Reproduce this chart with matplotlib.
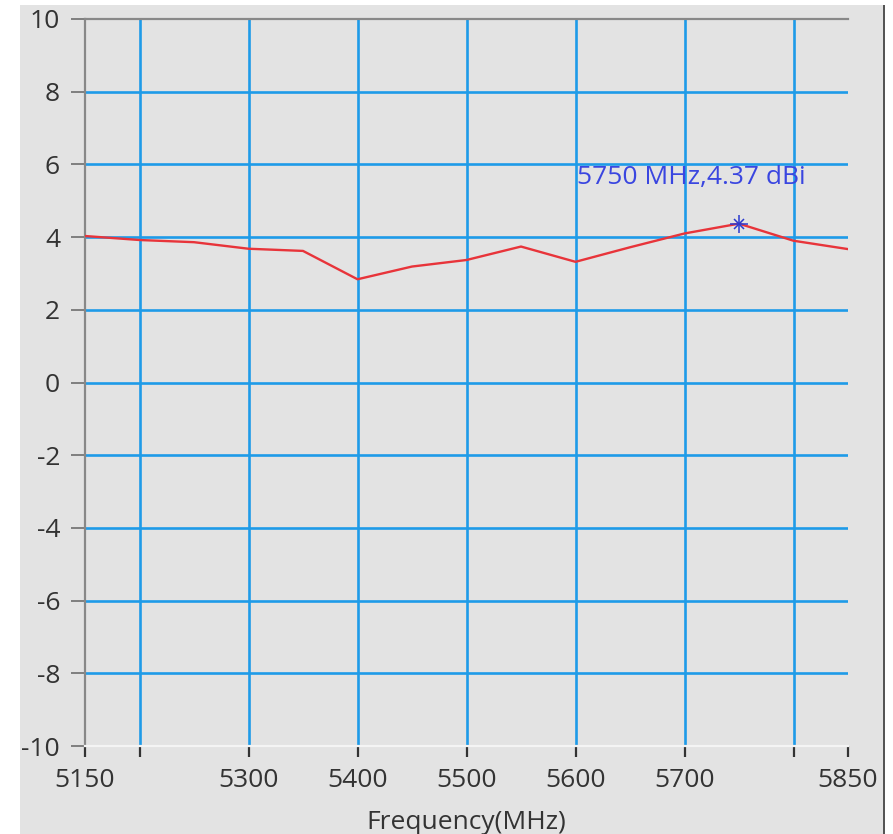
import matplotlib
matplotlib.use("Agg")
import matplotlib.pyplot as plt
from matplotlib.patches import Rectangle

freq = [5150, 5200, 5250, 5300, 5350, 5400, 5450, 5500, 5550, 5600, 5650, 5700, 5750, 5800, 5850]
gain = [4.03, 3.92, 3.86, 3.68, 3.62, 2.84, 3.19, 3.37, 3.74, 3.32, 3.72, 4.10, 4.37, 3.90, 3.67]
peak_freq = 5750
peak_gain = 4.37
peak_label = "5750 MHz,4.37 dBi"
xticks = [5150, 5200, 5300, 5400, 5500, 5600, 5700, 5800, 5850]
xticklabels = ["5150", "", "5300", "5400", "5500", "5600", "5700", "", "5850"]
xgrid = [5200, 5300, 5400, 5500, 5600, 5700, 5800]
yticks = list(range(-10, 11, 2))
ygrid = [-8, -6, -4, -2, 0, 2, 4, 6, 8]

plt.rcParams['font.family'] = ['Open Sans', 'DejaVu Sans']
plt.rcParams['axes.unicode_minus'] = False
bg = "#e3e3e3"
fig = plt.figure(figsize=(8.93, 8.34), dpi=100, facecolor="white")
fig.patches.append(Rectangle((20/893, 0), (883-20)/893, 1-5/834, transform=fig.transFigure,
                             facecolor=bg, edgecolor="none", zorder=-10))
fig.patches.append(Rectangle((883/893, 0), 2/893, 1-5/834, transform=fig.transFigure,
                             facecolor="#555555", edgecolor="none", zorder=-9))
ax = fig.add_axes([85/893, 1-746/834, (848-85)/893, (746-19)/834])
ax.set_facecolor(bg)

grid_c = "#1e9be8"
for x in xgrid:
    ax.axvline(x, color=grid_c, lw=1.9, zorder=1)
for y in ygrid:
    ax.axhline(y, color=grid_c, lw=1.9, zorder=1)

ax.plot(freq, gain, color="#e8343a", lw=1.7, zorder=3)
ax.plot([peak_freq], [peak_gain], marker="+", color="#2a3ad0", ms=13, mew=1.1, zorder=4)
ax.plot([peak_freq], [peak_gain], marker="x", color="#2a3ad0", ms=7, mew=1.1, zorder=4)
ax.text(5601, 5.65, peak_label, color="#3a46e0", fontsize=19, va="center", ha="left", zorder=5)

ax.set_xlim(5150, 5850)
ax.set_ylim(-10, 10)
ax.set_xticks(xticks)
ax.set_xticklabels(xticklabels)
ax.set_yticks(yticks)
ax.tick_params(axis="x", direction="out", length=8, width=1.6, colors="#333333",
               labelsize=19, pad=8, labelcolor="#333333")
ax.tick_params(axis="y", direction="out", length=10, width=1.3, colors="#777777",
               labelsize=19, pad=8, labelcolor="#333333")
ax.spines["right"].set_visible(False)
ax.spines["left"].set_color("#888888")
ax.spines["left"].set_linewidth(1.6)
ax.spines["top"].set_color("#888888")
ax.spines["top"].set_linewidth(1.6)
ax.spines["bottom"].set_color("#f4f4f4")
ax.spines["bottom"].set_linewidth(1.6)
ax.set_xlabel("Frequency(MHz)", fontsize=19, color="#333333", labelpad=12)

fig.savefig("out.png", dpi=100, facecolor=fig.get_facecolor())
